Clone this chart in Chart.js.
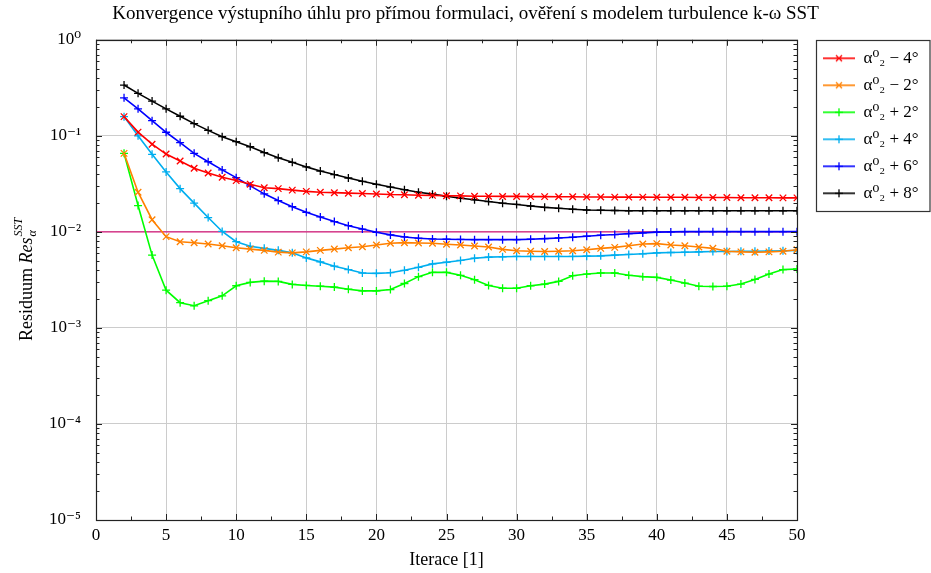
<!DOCTYPE html>
<html>
<head>
<meta charset="utf-8">
<script src="https://cdn.jsdelivr.net/npm/chart.js@4.4.0/dist/chart.umd.min.js"></script>
<style>
  html, body { margin: 0; padding: 0; background: #fff; }
  #wrap { width: 931px; height: 573px; }
</style>
</head>
<body>
<div id="wrap"><canvas id="myChart"></canvas></div>
<script>
const serif = "'Liberation Serif', 'DejaVu Serif', serif";

// iterace 2..50
const iterations = [2, 3, 4, 5, 6, 7, 8, 9, 10, 11, 12, 13, 14, 15, 16, 17, 18, 19, 20, 21, 22, 23, 24, 25, 26,
    27, 28, 29, 30, 31, 32, 33, 34, 35, 36, 37, 38, 39, 40, 41, 42, 43, 44, 45, 46, 47, 48, 49, 50];

const resMinus4 = [0.1585, 0.1094, 0.0818, 0.0646, 0.0546, 0.046, 0.0411, 0.037, 0.0342, 0.0313, 0.0288, 0.0282,
    0.0272, 0.0264, 0.0259, 0.0256, 0.0253, 0.0251, 0.0248, 0.0245, 0.0244, 0.0241, 0.024, 0.0238, 0.0237, 0.0235,
    0.0235, 0.0234, 0.0234, 0.0233, 0.0233, 0.0232, 0.0232, 0.0231, 0.0231, 0.023, 0.023, 0.023, 0.0229, 0.0229,
    0.0229, 0.0228, 0.0228, 0.0228, 0.0227, 0.0227, 0.0227, 0.0226, 0.0226];

const resMinus2 = [0.0657, 0.0259, 0.01338, 0.00892, 0.0079, 0.00772, 0.00748, 0.00717, 0.00684, 0.00662, 0.00642,
    0.00616, 0.00605, 0.00619, 0.00642, 0.00662, 0.00684, 0.007, 0.0073, 0.00761, 0.00772, 0.00767, 0.00761, 0.00743,
    0.0073, 0.00713, 0.00697, 0.00657, 0.00636, 0.00628, 0.00624, 0.00628, 0.00636, 0.00651, 0.00674, 0.0069, 0.00717,
    0.00748, 0.00754, 0.0073, 0.00717, 0.00697, 0.00674, 0.00628, 0.00619, 0.00614, 0.00619, 0.00628, 0.00651];

const resPlus2 = [0.0657, 0.0188, 0.00573, 0.00247, 0.00183, 0.0017, 0.00192, 0.00216, 0.00275, 0.00298, 0.00307,
    0.00305, 0.00284, 0.00277, 0.00272, 0.00266, 0.00253, 0.00243, 0.00243, 0.00251, 0.0029, 0.00342, 0.00379, 0.00379,
    0.00353, 0.00318, 0.00277, 0.00259, 0.00259, 0.00275, 0.00286, 0.00305, 0.0035, 0.00364, 0.00373, 0.00373, 0.00353,
    0.00342, 0.00336, 0.00315, 0.00293, 0.00272, 0.0027, 0.00272, 0.00286, 0.0032, 0.00364, 0.00405, 0.00411];

const resPlus4 = [0.1585, 0.1, 0.0642, 0.0421, 0.0282, 0.0199, 0.0141, 0.0101, 0.0079, 0.00707, 0.00674, 0.00642,
    0.00605, 0.00536, 0.00487, 0.00439, 0.00405, 0.00373, 0.0037, 0.00376, 0.00398, 0.00428, 0.00464, 0.00483,
    0.00504, 0.00532, 0.00546, 0.0055, 0.00555, 0.00555, 0.00555, 0.00555, 0.00555, 0.00559, 0.00563, 0.00573,
    0.00582, 0.00591, 0.00605, 0.0061, 0.00614, 0.00619, 0.00624, 0.00624, 0.00628, 0.00628, 0.00633, 0.00636, 0.0064];

const resPlus6 = [0.249, 0.191, 0.144, 0.109, 0.085, 0.0657, 0.0537, 0.0442, 0.0367, 0.0301, 0.0249, 0.0212,
    0.0183, 0.016, 0.0143, 0.0128, 0.0116, 0.0107, 0.0099, 0.0093, 0.00886, 0.00859, 0.00844, 0.00838, 0.00834,
    0.0083, 0.0083, 0.0083, 0.0083, 0.00838, 0.0085, 0.00865, 0.00879, 0.00901, 0.00924, 0.00938, 0.0096, 0.00976,
    0.00993, 0.01, 0.01005, 0.01005, 0.01005, 0.01005, 0.01005, 0.01005, 0.01005, 0.01005, 0.01005];

const resPlus8 = [0.338, 0.277, 0.23, 0.191, 0.16, 0.134, 0.114, 0.098, 0.087, 0.077, 0.067, 0.059, 0.053,
    0.0475, 0.043, 0.0395, 0.0364, 0.0336, 0.0313, 0.0293, 0.0275, 0.0259, 0.0247, 0.0235, 0.0224, 0.0216, 0.0207,
    0.0199, 0.0193, 0.0186, 0.018, 0.0176, 0.0172, 0.0169, 0.0168, 0.0167, 0.0166, 0.0166, 0.0166, 0.0166, 0.0166,
    0.0166, 0.0166, 0.0166, 0.0166, 0.0166, 0.0166, 0.0166, 0.0166];

// hranice 1e-2
const limitX = [0, 50];
const limitY = [0.01, 0.01];

const seriesLabels = ['α⁰₂ − 4°', 'α⁰₂ − 2°', 'α⁰₂ + 2°', 'α⁰₂ + 4°', 'α⁰₂ + 6°', 'α⁰₂ + 8°'];
const seriesColors = ['#ff0000', '#ff8000', '#00ff00', '#00aeef', '#0000ff', '#000000'];
const seriesMarks = ['crossRot', 'crossRot', 'cross', 'cross', 'cross', 'cross'];
const seriesValues = [resMinus4, resMinus2, resPlus2, resPlus4, resPlus6, resPlus8];

const yTickValues = [1, 0.1, 0.01, 0.001, 0.0001, 0.00001];

const sup = {'-': '⁻', '0': '⁰', '1': '¹', '2': '²', '3': '³', '4': '⁴', '5': '⁵', '6': '⁶', '7': '⁷', '8': '⁸', '9': '⁹'};
const isDecade = v => Math.abs(Math.log10(v) - Math.round(Math.log10(v))) < 1e-6;
const decadeLabel = v => '10' + String(Math.round(Math.log10(v))).split('').map(c => sup[c]).join('');

function markRadius(mark) { return mark === 'crossRot' ? 4.6 : 4; }

// legend sample: line + marker
function legendSample(color, mark) {
    const c = document.createElement('canvas');
    c.width = 48; c.height = 12;
    const g = c.getContext('2d');
    g.strokeStyle = color;
    g.lineWidth = 1.6;
    g.beginPath(); g.moveTo(16, 6); g.lineTo(48, 6); g.stroke();
    g.lineWidth = 1.3;
    g.beginPath();
    if (mark === 'cross') {
        g.moveTo(32, 2); g.lineTo(32, 10); g.moveTo(28, 6); g.lineTo(36, 6);
    } else {
        g.moveTo(29, 3); g.lineTo(35, 9); g.moveTo(35, 3); g.lineTo(29, 9);
    }
    g.stroke();
    return c;
}

const datasets = seriesValues.map((vals, i) => ({
    label: seriesLabels[i],
    data: iterations.map((x, j) => ({x: x, y: vals[j]})),
    borderColor: seriesColors[i],
    backgroundColor: seriesColors[i],
    borderWidth: 1.6,
    pointStyle: seriesMarks[i],
    pointRadius: markRadius(seriesMarks[i]),
    pointBorderWidth: 1.3,
    tension: 0
}));

datasets.push({
    label: 'limit',
    data: limitX.map((x, j) => ({x: x, y: limitY[j]})),
    borderColor: '#d6197a',
    borderWidth: 1.4,
    pointRadius: 0,
    order: 10
});

// pevna sirka legendy, aby graf koncil na x=50 jako v predloze
const legendFit = {
    id: 'legendFit',
    beforeInit(chart) {
        const fit = chart.legend.fit;
        chart.legend.fit = function () {
            fit.call(this);
            if (this.isHorizontal && !this.isHorizontal()) this.width = 134;
        };
    }
};

// ramecek, vedlejsi carky os, popisek osy y, ramecek legendy
const frame = {
    id: 'frame',
    afterDraw(chart) {
        const {ctx, chartArea: a, scales} = chart;
        const x = scales.x, y = scales.y;
        ctx.save();
        ctx.strokeStyle = '#222';
        ctx.lineWidth = 1;

        ctx.beginPath();
        // y ticks
        for (let e = -5; e <= 0; e++) {
            for (let m = 1; m <= 9; m++) {
                const v = m * Math.pow(10, e);
                if (v > 1) break;
                const py = Math.round(y.getPixelForValue(v)) + 0.5;
                const len = m === 1 ? 6 : 3.5;
                ctx.moveTo(a.left, py); ctx.lineTo(a.left + len, py);
                ctx.moveTo(a.right, py); ctx.lineTo(a.right - len, py);
            }
        }
        // x ticks
        for (let t = 0; t <= 50; t += 2.5) {
            const px = Math.round(x.getPixelForValue(t)) + 0.5;
            const len = t % 5 === 0 ? 6 : 3.5;
            ctx.moveTo(px, a.bottom); ctx.lineTo(px, a.bottom - len);
            ctx.moveTo(px, a.top); ctx.lineTo(px, a.top + len);
        }
        ctx.stroke();

        ctx.lineWidth = 1.2;
        ctx.strokeRect(Math.round(a.left) + 0.5, Math.round(a.top) + 0.5,
            Math.round(a.right - a.left), Math.round(a.bottom - a.top));

        // legend box
        const lg = chart.legend;
        const boxes = lg.legendHitBoxes;
        if (boxes && boxes.length) {
            const last = boxes[boxes.length - 1];
            const bottom = last.top + last.height + 9;
            ctx.lineWidth = 1.2;
            ctx.strokeStyle = '#333';
            ctx.strokeRect(816.5, Math.round(a.top) + 0.5, 930 - 816.5, Math.round(bottom - a.top));
        }

        // y axis title: Residuum Res_alpha^SST
        ctx.fillStyle = '#000';
        ctx.translate(27, (a.top + a.bottom) / 2);
        ctx.rotate(-Math.PI / 2);
        ctx.textBaseline = 'middle';
        const f1 = '18px ' + serif, f2 = 'italic 18px ' + serif, f3 = 'italic 12px ' + serif;
        ctx.font = f1; const w1 = ctx.measureText('Residuum ').width;
        ctx.font = f2; const w2 = ctx.measureText('Res').width;
        ctx.font = f3; const w3 = Math.max(ctx.measureText('SST').width, ctx.measureText('α').width);
        let cx = -(w1 + w2 + w3) / 2;
        ctx.font = f1; ctx.fillText('Residuum ', cx, 0); cx += w1;
        ctx.font = f2; ctx.fillText('Res', cx, 0); cx += w2;
        ctx.font = f3; ctx.fillText('SST', cx + 1, -8); ctx.fillText('α', cx + 1, 6);
        ctx.restore();
    }
};

const config = {
    type: 'line',
    data: { datasets: datasets },
    options: {
        responsive: true,
        maintainAspectRatio: false,
        animation: false,
        layout: { padding: 0 },
        plugins: {
            title: {
                display: true,
                text: 'Konvergence výstupního úhlu pro přímou formulaci, ověření s modelem turbulence k-ω SST',
                color: '#000',
                font: { family: serif, size: 19, weight: 'normal' },
                padding: { top: 3, bottom: 14 }
            },
            legend: {
                position: 'right',
                align: 'start',
                fullSize: false,
                labels: {
                    usePointStyle: true,
                    pointStyleWidth: 48,
                    padding: 10,
                    color: '#000',
                    font: { family: serif, size: 17 },
                    filter: item => item.text !== 'limit',
                    generateLabels(chart) {
                        const items = Chart.defaults.plugins.legend.labels.generateLabels(chart);
                        items.forEach(it => {
                            if (it.datasetIndex < seriesColors.length) {
                                it.pointStyle = legendSample(seriesColors[it.datasetIndex], seriesMarks[it.datasetIndex]);
                            }
                        });
                        return items;
                    }
                }
            },
            tooltip: { enabled: false }
        },
        scales: {
            x: {
                type: 'linear',
                min: 0,
                max: 50,
                ticks: { stepSize: 5, color: '#000', font: { family: serif, size: 17 }, padding: 5 },
                grid: { color: '#cccccc', drawTicks: false },
                border: { display: false },
                title: { display: true, text: 'Iterace [1]', color: '#000', font: { family: serif, size: 18 }, padding: 2 },
                afterFit: s => { s.height = 53; }
            },
            y: {
                type: 'logarithmic',
                min: 0.00001,
                max: 1,
                afterBuildTicks: s => { s.ticks = yTickValues.map(v => ({value: v})); },
                ticks: {
                    autoSkip: false,
                    color: '#000',
                    font: { family: serif, size: 17 },
                    padding: 15,
                    callback: v => isDecade(v) ? decadeLabel(v) : ''
                },
                grid: { color: '#cccccc', drawTicks: false },
                border: { display: false },
                afterFit: s => { s.width = 96; }
            }
        }
    },
    plugins: [legendFit, frame]
};

const myChart = new Chart(document.getElementById('myChart'), config);
</script>
</body>
</html>
